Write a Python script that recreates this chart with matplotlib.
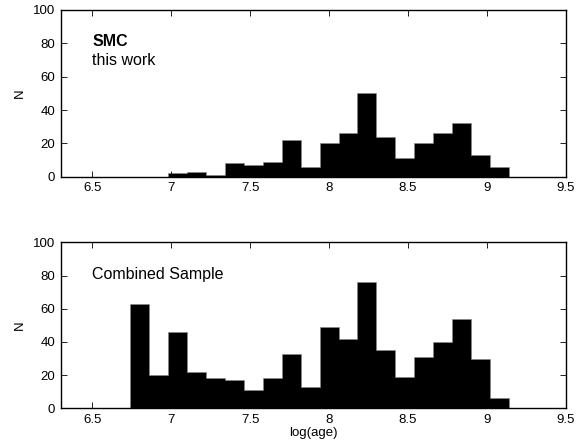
import numpy as np
import matplotlib
matplotlib.use('Agg')
import matplotlib.pyplot as plt

plt.rcParams['font.family'] = ['Liberation Sans', 'DejaVu Sans']

# bin edges in log(age)
edges = [6.74, 6.86, 6.98, 7.10, 7.22, 7.34, 7.46, 7.58, 7.70, 7.82, 7.94,
         8.06, 8.18, 8.30, 8.42, 8.54, 8.66, 8.78, 8.90, 9.02, 9.14]

# counts per bin
smc_counts = [0, 0, 2, 3, 1, 8, 7, 9, 22, 6, 20, 26, 50, 24, 11, 20, 26, 32, 13, 6]
comb_counts = [63, 20, 46, 22, 18, 17, 11, 18, 33, 13, 49, 42, 76, 35, 19, 31, 40, 54, 30, 6]

xticks = [6.5, 7, 7.5, 8, 8.5, 9, 9.5]
xticklabels = ['6.5', '7', '7.5', '8', '8.5', '9', '9.5']
yticks = [0, 20, 40, 60, 80, 100]

fig = plt.figure(figsize=(5.83, 4.46), dpi=100)
ax1 = fig.add_axes([0.1038, 0.6038, 0.867, 0.3738])
ax2 = fig.add_axes([0.1038, 0.0845, 0.867, 0.372])

centers = (np.array(edges[:-1]) + np.array(edges[1:])) / 2

for ax, counts in [(ax1, smc_counts), (ax2, comb_counts)]:
    ax.hist(centers, bins=edges, weights=counts, color='black',
            edgecolor='#888888', linewidth=0.4, histtype='stepfilled')
    ax.set_xlim(6.3, 9.5)
    ax.set_ylim(0, 100)
    ax.set_xticks(xticks)
    ax.set_xticklabels(xticklabels)
    ax.set_yticks(yticks)
    ax.tick_params(direction='in', top=True, right=True, length=4,
                   width=0.6, labelsize=9.5, pad=4)
    for s in ax.spines.values():
        s.set_linewidth(1.0)
    ax.set_ylabel('N', fontsize=9.5, labelpad=5)

ax1.text(6.5, 78.5, 'SMC', fontsize=11.5, fontweight='bold')
ax1.text(6.5, 67, 'this work', fontsize=11.5)
ax2.text(6.5, 78, 'Combined Sample', fontsize=11.5)
ax2.set_xlabel('log(age)', fontsize=9.5, labelpad=1)

fig.savefig('out.png', dpi=100)
